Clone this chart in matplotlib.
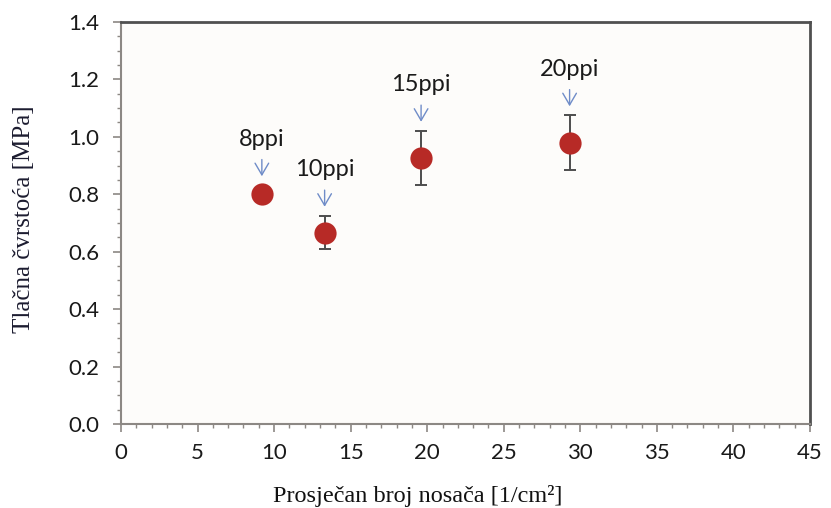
import numpy as np
import matplotlib.pyplot as plt
from matplotlib.ticker import MultipleLocator

# data
labels = ["8ppi", "10ppi", "15ppi", "20ppi"]
x_vals = [9.2, 13.3, 19.6, 29.3]
y_vals = [0.80, 0.665, 0.927, 0.98]
err_lo = [0.0, 0.055, 0.095, 0.097]
err_hi = [0.0, 0.060, 0.094, 0.095]

bg = "#fdfcfa"
red = "#b72a26"
blue = "#6f8cc8"
axis_grey = "#8c8884"

fig = plt.figure(figsize=(8.31, 5.08), dpi=100, facecolor="white")
ax = fig.add_axes([0.1456, 0.1654, 0.8291, 0.7913], facecolor=bg)

ax.errorbar(x_vals, y_vals, yerr=[err_lo, err_hi], fmt="none",
            ecolor="#4d4d4d", elinewidth=1.4, capsize=4, capthick=1.4, zorder=2)
ax.plot(x_vals, y_vals, "o", color=red, markersize=16, markeredgewidth=0, zorder=3)

for lab, xv, yv, eh in zip(labels, x_vals, y_vals, err_hi):
    top = yv + eh
    gap = 6.5 if eh > 0 else 13
    ax.annotate(lab, xy=(xv, top), xytext=(0, gap + 19), textcoords="offset points",
                ha="center", va="bottom", fontsize=17, family="Lato", color="#1a1a1a",
                arrowprops=dict(arrowstyle="->, head_length=0.6, head_width=0.35",
                                color=blue, lw=1.0,
                                shrinkA=5, shrinkB=gap, mutation_scale=14))

ax.set_xlim(0, 45)
ax.set_ylim(0, 1.4)
ax.xaxis.set_major_locator(MultipleLocator(5))
ax.xaxis.set_minor_locator(MultipleLocator(1))
ax.yaxis.set_major_locator(MultipleLocator(0.2))
ax.yaxis.set_minor_locator(MultipleLocator(0.05))
ax.yaxis.set_major_formatter(plt.FuncFormatter(lambda v, p: f"{v:.1f}"))

for side in ["left", "bottom"]:
    ax.spines[side].set_color(axis_grey)
    ax.spines[side].set_linewidth(1.5)
for side in ["top", "right"]:
    ax.spines[side].set_color("#505050")
    ax.spines[side].set_linewidth(2.0)

ax.tick_params(which="major", length=5.5, width=1.2, color=axis_grey,
               labelsize=16)
ax.tick_params(axis="y", which="major", pad=10)
ax.tick_params(axis="x", which="major", pad=8)
ax.tick_params(which="minor", length=3, width=1.0, color=axis_grey)
ax.tick_params(top=False, right=False, which="both")
for t in ax.get_xticklabels() + ax.get_yticklabels():
    t.set_family("Lato")
    t.set_color("#1a1a1a")

ax.set_xlabel("Prosječan broj nosača [1/cm²]", family="Liberation Serif",
              fontsize=17.5, color="#111111")
ax.xaxis.set_label_coords(0.431, -0.152)
ax.set_ylabel("Tlačna čvrstoća [MPa]", family="Liberation Serif",
              fontsize=18, color="#1c1c30")
ax.yaxis.set_label_coords(-0.125, 0.51)

fig.savefig("out.png", dpi=100, facecolor="white")
